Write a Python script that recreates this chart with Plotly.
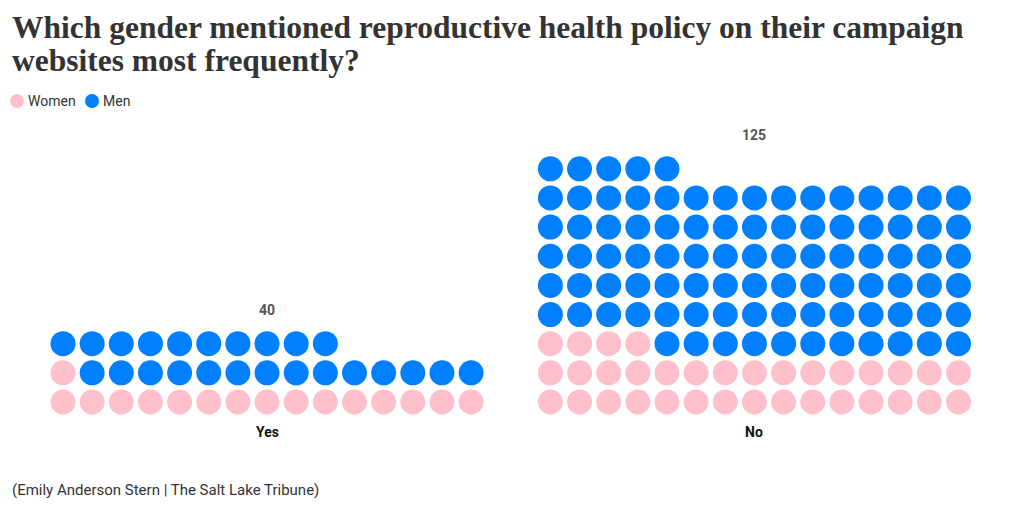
import plotly.graph_objects as go

# ---- data ----
categories = ["Yes", "No"]
women = [16, 34]
men = [24, 91]
series_names = ["Women", "Men"]
colors = {"Women": "#ffc0cb", "Men": "#0080ff"}

title_lines = ["Which gender mentioned reproductive health policy on their campaign",
               "websites most frequently?"]
source = "(Emily Anderson Stern | The Salt Lake Tribune)"

# ---- layout params ----
COLS = 15
GROUP_GAP = 16.72  # group offset in dot units
W, H = 1020, 509
U = 29.15          # px per dot unit
X0, Y0 = 63, 402   # pixel position of first dot

fig = go.Figure()

xs = {"Women": [], "Men": []}
ys = {"Women": [], "Men": []}
for g, cat in enumerate(categories):
    total = women[g] + men[g]
    for i in range(total):
        s = "Women" if i < women[g] else "Men"
        xs[s].append(i % COLS + g * GROUP_GAP)
        ys[s].append(i // COLS)

for s in series_names:
    fig.add_trace(go.Scatter(
        x=xs[s], y=ys[s], mode="markers", name=s,
        marker=dict(size=25, color=colors[s], line=dict(width=0)),
        hoverinfo="skip", showlegend=False,
    ))

annotations = []
for g, cat in enumerate(categories):
    total = women[g] + men[g]
    nrows = (total + COLS - 1) // COLS
    cx = (COLS - 1) / 2 + g * GROUP_GAP
    annotations.append(dict(x=cx, y=nrows - 1 + 1.15, xref="x", yref="y", text=f"<b>{total}</b>",
                            showarrow=False, font=dict(family="Roboto", size=14, color="#555")))
    annotations.append(dict(x=cx, y=-1.03, xref="x", yref="y", text=f"<b>{cat}</b>",
                            showarrow=False, font=dict(family="Roboto", size=14, color="#111")))

# title
for line, py in zip(title_lines, [28, 61]):
    annotations.append(dict(x=10 / W, y=1 - py / H, xref="paper", yref="paper", xanchor="left",
                            yanchor="middle", text=f"<b>{line}</b>", showarrow=False, align="left",
                            font=dict(family="Liberation Serif", size=31.5, color="#333")))
# legend
shapes = []
leg_x = [17, 92]
for s, lx in zip(series_names, leg_x):
    shapes.append(dict(type="circle", xref="paper", yref="paper",
                       x0=(lx - 7) / W, x1=(lx + 7) / W, y0=1 - (101 + 7) / H, y1=1 - (101 - 7) / H,
                       fillcolor=colors[s], line=dict(width=0)))
    annotations.append(dict(x=(lx + 9) / W, y=1 - 101 / H, xref="paper", yref="paper", xanchor="left",
                            yanchor="middle", text=s, showarrow=False,
                            font=dict(family="Roboto", size=14, color="#333")))
# source
annotations.append(dict(x=10 / W, y=1 - 490 / H, xref="paper", yref="paper", xanchor="left", yanchor="middle",
                        text=source, showarrow=False, font=dict(family="Roboto", size=15, color="#333")))

fig.update_layout(
    width=W, height=H, margin=dict(l=0, r=0, t=0, b=0),
    paper_bgcolor="white", plot_bgcolor="white",
    xaxis=dict(range=[-X0 / U, (W - X0) / U], visible=False, fixedrange=True),
    yaxis=dict(range=[-(H - Y0) / U, Y0 / U], visible=False, fixedrange=True),
    annotations=annotations, shapes=shapes,
)

fig.write_html("out.html", config={"displayModeBar": False},
               post_script="document.body.style.margin='0';document.body.style.overflow='hidden';")
